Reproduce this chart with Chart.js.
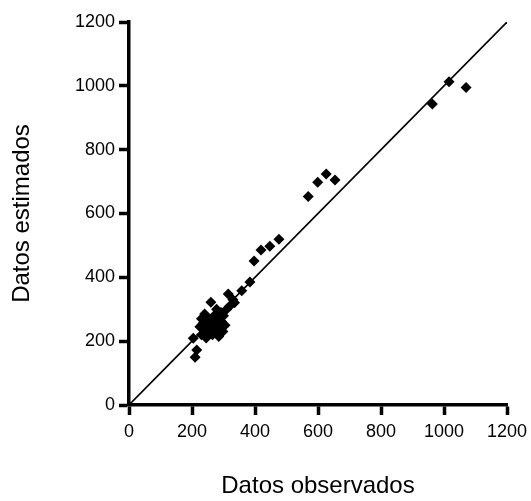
<!DOCTYPE html>
<html>
<head>
<meta charset="utf-8">
<script src="https://cdn.jsdelivr.net/npm/chart.js@4"></script>
<style>
  html, body { margin: 0; padding: 0; background: #fff; }
  #wrap { width: 531px; height: 501px; }
</style>
</head>
<body>
<div id="wrap"><canvas id="scatter"></canvas></div>
<script>
// observed vs estimated values
const observed = [
  204, 215, 210, 225, 230, 235, 240, 240, 245, 248, 250, 252, 255, 258, 260, 262,
  265, 268, 270, 272, 275, 278, 280, 282, 285, 288, 290, 292, 295, 298, 300, 305,
  310, 315, 320, 330, 335, 230, 245, 265, 285, 358, 384, 397, 419, 447, 476,
  569, 599, 626, 654, 963, 1016, 1070
];
const estimated = [
  209, 172, 150, 245, 270, 255, 230, 285, 260, 240, 225, 270, 250, 235, 322, 260,
  245, 230, 280, 255, 240, 300, 265, 225, 250, 275, 240, 290, 260, 230, 280, 250,
  300, 348, 310, 330, 320, 220, 210, 220, 215, 358, 385, 451, 486, 497, 519,
  653, 698, 724, 705, 943, 1013, 995
];
const ticks = [0, 200, 400, 600, 800, 1000, 1200];

const points = observed.map((x, i) => ({ x: x, y: estimated[i] }));
const fontFamily = "'Liberation Sans', Arial, sans-serif";

function axis(title, titlePad, tickPad, fitSize, isY) {
  return {
    type: 'linear',
    min: 0,
    max: 1200,
    afterBuildTicks: (s) => { s.ticks = ticks.map(v => ({ value: v })); },
    afterFit: (s) => {
      // fixed box sizes so the plot area lands where it should
      if (isY) {
        s.width = fitSize;
        s.paddingTop = 0;
        s.paddingBottom = 0;
      } else {
        s.height = fitSize;
        s.paddingLeft = 0;
        s.paddingRight = 0;
      }
    },
    border: { display: true, color: '#000', width: 3.5 },
    grid: {
      drawOnChartArea: false,
      drawTicks: true,
      tickLength: 10,
      tickWidth: 3.5,
      tickColor: '#000'
    },
    ticks: {
      color: '#000',
      font: { family: fontFamily, size: 18 },
      padding: tickPad,
      callback: (v) => String(v)
    },
    title: {
      display: true,
      text: title,
      color: '#000',
      font: { family: fontFamily, size: 24 },
      padding: titlePad
    }
  };
}

new Chart(document.getElementById('scatter'), {
  type: 'scatter',
  data: {
    datasets: [
      {
        data: points,
        pointStyle: 'rectRot',
        pointRadius: 5.5,
        backgroundColor: '#000',
        borderColor: '#000',
        borderWidth: 0
      },
      {
        type: 'line',
        data: [{ x: 0, y: 0 }, { x: 1200, y: 1200 }],
        borderColor: '#000',
        borderWidth: 1.6,
        pointRadius: 0,
        fill: false
      }
    ]
  },
  options: {
    responsive: true,
    maintainAspectRatio: false,
    animation: false,
    layout: { padding: { left: 0, right: 24, top: 22, bottom: 0 } },
    plugins: { legend: { display: false }, tooltip: { enabled: false } },
    scales: {
      x: axis('Datos observados', { top: 0, bottom: 0 }, 6, 96, false),
      y: axis('Datos estimados', { top: 8, bottom: 0 }, 4, 129, true)
    }
  }
});
</script>
</body>
</html>
